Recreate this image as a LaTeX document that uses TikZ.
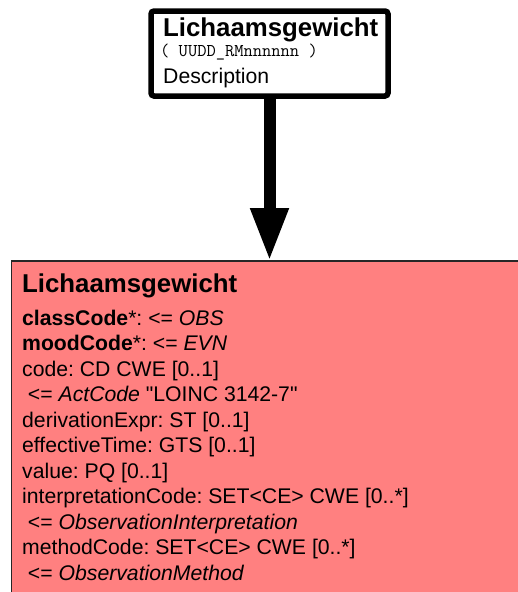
\documentclass[tikz,border=0pt]{standalone}
\usepackage{fontspec}
\setmainfont{Liberation Sans}[Ligatures=TeXOff]
\usetikzlibrary{arrows.meta}
\definecolor{umlred}{HTML}{FF8080}
\frenchspacing
\tikzset{
  txt/.style={inner sep=0pt, anchor=base west},
  attr/.style={txt, font=\fontsize{21.2}{25}\selectfont},
  ttl/.style={txt, font=\fontsize{25.8}{30}\selectfont\bfseries},
  refbox/.style={draw=black, fill=white, line width=5.5pt, rounded corners=3pt, outer sep=0pt, anchor=north west},
  classbox/.style={draw=black!85, fill=umlred, line width=1.6pt, outer sep=0pt, anchor=north west},
  bigarrow/.style={line width=12pt, -{Triangle[length=53pt, width=35.5pt]}}
}
\begin{document}
\begin{tikzpicture}[x=1pt,y=-1pt]
\useasboundingbox (0,0) rectangle (517,592);
% reference box
\node[refbox, minimum width=237pt, minimum height=85pt] (top) at (151,11) {};
\node[ttl] (toptitle) at (163,36) {Lichaamsgewicht};
\node[txt, font=\fontsize{18}{20}\ttfamily] (topid) at (160,56) {( UUDD\_RMnnnnnn )};
\node[attr] (topdesc) at (163,83) {Description};
% class box
\node[classbox, minimum width=540pt, minimum height=380pt] (cls) at (11.5,261) {};
\coordinate (tip) at (top.south |- cls.north);
\draw[bigarrow] (top.south) -- (tip);
\node[ttl] (clstitle) at (22,292) {Lichaamsgewicht};
\node[attr] (a1) at (22,325.0) {\textbf{classCode}*: <= \textit{OBS}};
\node[attr] (a2) at (22,350.5) {\textbf{moodCode}*: <= \textit{EVN}};
\node[attr] (a3) at (22,376.0) {code: CD CWE [0..1]};
\node[attr] (a4) at (22,401.5) {\hspace*{5.8pt}<= \textit{ActCode} "LOINC 3142-7"};
\node[attr] (a5) at (22,427.0) {derivationExpr: ST [0..1]};
\node[attr] (a6) at (22,452.5) {effectiveTime: GTS [0..1]};
\node[attr] (a7) at (22,478.0) {value: PQ [0..1]};
\node[attr] (a8) at (22,503.5) {interpretationCode: SET<CE> CWE [0..*]};
\node[attr] (a9) at (22,529.0) {\hspace*{5.8pt}<= \textit{ObservationInterpretation}};
\node[attr] (a10) at (22,554.5) {methodCode: SET<CE> CWE [0..*]};
\node[attr] (a11) at (22,580.0) {\hspace*{5.8pt}<= \textit{ObservationMethod}};
\end{tikzpicture}
\end{document}
